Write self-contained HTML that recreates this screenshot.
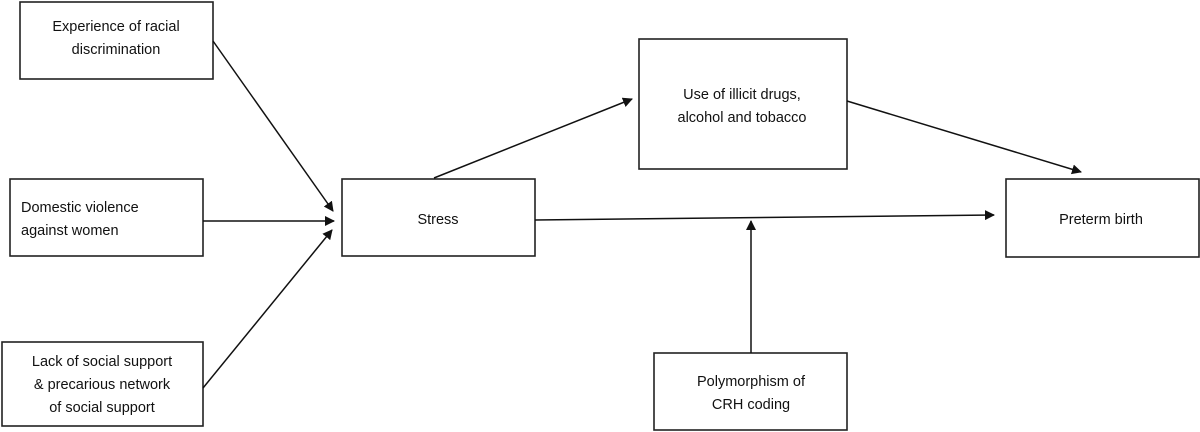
<!DOCTYPE html>
<html><head><style>
html,body{margin:0;padding:0;background:#fff;}
svg{display:block;}
text{font-family:"Liberation Sans",sans-serif;font-size:14.5px;fill:#111;}
rect{fill:#fff;stroke:#222;stroke-width:1.6;}
line{stroke:#111;stroke-width:1.5;}
</style></head><body>
<svg width="1200" height="432" viewBox="0 0 1200 432">
<defs><marker id="a" markerWidth="10" markerHeight="10" refX="9" refY="5" orient="auto" markerUnits="userSpaceOnUse"><path d="M0,0 L10,5 L0,10 z" fill="#111"/></marker></defs>
<rect x="20" y="2" width="193" height="77"/>
<text x="116" y="31" text-anchor="middle">Experience of racial</text>
<text x="116" y="54" text-anchor="middle">discrimination</text>
<rect x="10" y="179" width="193" height="77"/>
<text x="21" y="212">Domestic violence</text>
<text x="21" y="235">against women</text>
<rect x="2" y="342" width="201" height="84"/>
<text x="102" y="366" text-anchor="middle">Lack of social support</text>
<text x="102" y="389" text-anchor="middle">&amp; precarious network</text>
<text x="102" y="412" text-anchor="middle">of social support</text>
<rect x="342" y="179" width="193" height="77"/>
<text x="438" y="224" text-anchor="middle">Stress</text>
<rect x="639" y="39" width="208" height="130"/>
<text x="742" y="99" text-anchor="middle">Use of illicit drugs,</text>
<text x="742" y="122" text-anchor="middle">alcohol and tobacco</text>
<rect x="1006" y="179" width="193" height="78"/>
<text x="1101" y="224" text-anchor="middle">Preterm  birth</text>
<rect x="654" y="353" width="193" height="77"/>
<text x="751" y="386" text-anchor="middle">Polymorphism  of</text>
<text x="751" y="409" text-anchor="middle">CRH coding</text>
<line x1="213" y1="41" x2="333" y2="211" marker-end="url(#a)"/>
<line x1="203" y1="221" x2="334" y2="221" marker-end="url(#a)"/>
<line x1="203" y1="388" x2="332" y2="230" marker-end="url(#a)"/>
<line x1="434" y1="178" x2="632" y2="99" marker-end="url(#a)"/>
<line x1="847" y1="101" x2="1081" y2="172" marker-end="url(#a)"/>
<line x1="535" y1="220" x2="994" y2="215" marker-end="url(#a)"/>
<line x1="751" y1="353" x2="751" y2="221" marker-end="url(#a)"/>
</svg>
</body></html>
